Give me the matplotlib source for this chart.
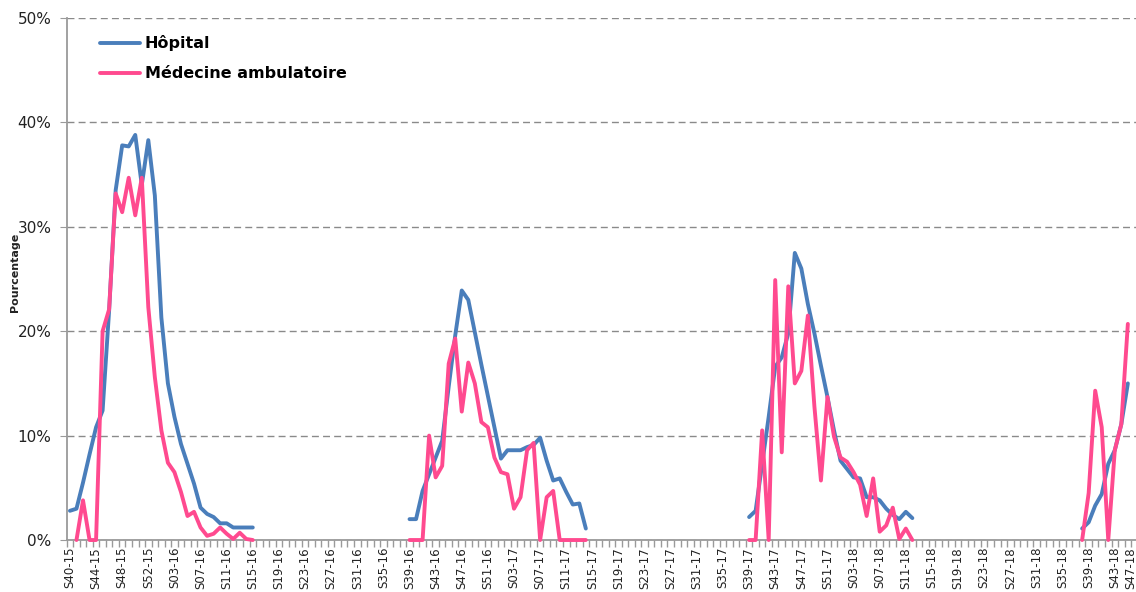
import numpy as np
import matplotlib
matplotlib.use("Agg")
import matplotlib.pyplot as plt
import matplotlib.ticker as ticker
import matplotlib.transforms as mtransforms

# week categories: (year, first week, last week)
YEAR_WEEKS = [(2015, 40, 53), (2016, 1, 52), (2017, 1, 52), (2018, 1, 47)]
WEEKS = [f"S{w:02d}-{y % 100:02d}" for y, a, b in YEAR_WEEKS for w in range(a, b + 1)]

# Hôpital, one list per season, starting at the given week (percent)
HOP_STARTS = ["S40-15", "S39-16", "S39-17", "S38-18"]
HOP_VALUES = [
    [2.8, 3.0, 5.5, 8.2, 10.8, 12.4, 22.0, 33.5, 37.8, 37.7, 38.8, 34.0, 38.3, 33.0, 21.3,
     15.0, 11.8, 9.2, 7.3, 5.4, 3.1, 2.5, 2.2, 1.6, 1.6, 1.2, 1.2, 1.2, 1.2],
    [2.0, 2.0, 4.7, 6.3, 7.9, 9.5, 14.7, 19.6, 23.9, 23.0, 19.9, 16.8, 13.8, 10.8, 7.8,
     8.6, 8.6, 8.6, 8.9, 9.1, 9.8, 7.6, 5.7, 5.9, 4.6, 3.4, 3.5, 1.1],
    [2.2, 2.8, 7.3, 11.8, 16.6, 17.5, 19.8, 27.5, 26.0, 22.6, 19.8, 16.7, 13.7, 10.5, 7.6,
     6.8, 6.0, 5.9, 4.1, 4.1, 3.8, 3.0, 2.4, 2.0, 2.7, 2.1],
    [1.1, 1.7, 3.3, 4.4, 7.3, 8.6, 11.1, 15.0],
]

# Médecine ambulatoire
AMB_STARTS = ["S41-15", "S39-16", "S39-17", "S38-18"]
AMB_VALUES = [
    [0.0, 3.8, 0.0, 0.0, 20.0, 22.1, 33.2, 31.4, 34.7, 31.1, 34.7, 22.3, 15.6, 10.5, 7.4,
     6.5, 4.6, 2.3, 2.7, 1.2, 0.4, 0.6, 1.2, 0.6, 0.1, 0.7, 0.1, 0.0],
    [0.0, 0.0, 0.0, 10.0, 6.0, 7.1, 16.9, 19.3, 12.3, 17.0, 15.0, 11.3, 10.8, 7.9, 6.5,
     6.3, 3.0, 4.1, 8.6, 9.3, 0.0, 4.1, 4.7, 0.0, 0.0, 0.0, 0.0, 0.0],
    [0.0, 0.0, 10.5, 0.0, 24.9, 8.4, 24.3, 15.0, 16.2, 21.5, 12.8, 5.7, 13.7, 9.9, 7.9,
     7.5, 6.5, 5.3, 2.3, 5.9, 0.8, 1.4, 3.1, 0.1, 1.1, 0.0],
    [0.0, 4.5, 14.3, 10.8, 0.0, 8.6, 11.1, 20.7],
]

BLUE = "#4A7EBB"
PINK = "#FF4A8F"
GREY = "#9a9a9a"


def build_series(starts, values):
    y = np.full(len(WEEKS), np.nan)
    for s, vals in zip(starts, values):
        i0 = WEEKS.index(s)
        y[i0:i0 + len(vals)] = vals
    return y


hop = build_series(HOP_STARTS, HOP_VALUES)
amb = build_series(AMB_STARTS, AMB_VALUES)
x = np.arange(len(WEEKS))

fig = plt.figure(figsize=(11.36, 5.92), dpi=100)
ax = fig.add_axes([0.0587, 0.0878, 0.9485, 0.8818])

ax.plot(x, hop, color=BLUE, linewidth=2.8, label="Hôpital", zorder=3, clip_on=False,
        solid_joinstyle="round", solid_capstyle="round")
ax.plot(x, amb, color=PINK, linewidth=2.8, label="Médecine ambulatoire", zorder=4, clip_on=False,
        solid_joinstyle="round", solid_capstyle="round")

ax.set_xlim(-0.5, len(WEEKS) - 0.5)
ax.set_ylim(0, 50)
ax.set_yticks(range(0, 51, 10))
ax.yaxis.set_major_formatter(ticker.FuncFormatter(lambda v, pos: f"{v:.0f}%"))
ax.yaxis.grid(True, linestyle=(0, (5, 3)), color="#8a8a8a", linewidth=1.0)
ax.set_axisbelow(True)

ax.set_xticks(x[::4])
ax.set_xticklabels(WEEKS[::4], rotation=90, fontsize=8.5, color="#222222")
ax.set_xticks(np.arange(-0.5, len(WEEKS), 1), minor=True)
ax.tick_params(axis="x", which="major", length=0, pad=5)
ax.tick_params(axis="x", which="minor", length=5, color=GREY, width=1)
ax.tick_params(axis="y", which="major", length=5, color=GREY, labelsize=11, labelcolor="#222222", pad=6)

# last label sits on the right edge of the picture: nudge it inside
last = ax.get_xticklabels()[-1]
last.set_transform(last.get_transform() + mtransforms.ScaledTranslation(-10 / 100, 0, fig.dpi_scale_trans))

for side in ["top", "right"]:
    ax.spines[side].set_visible(False)
for side in ["left", "bottom"]:
    ax.spines[side].set_color(GREY)
    ax.spines[side].set_linewidth(1.3)

fig.text(15 / 1136, 1 - 272 / 592, "Pourcentage", rotation=90, ha="center", va="center",
         fontsize=8, fontweight="bold", color="#222222")

ax.legend(loc="upper left", bbox_to_anchor=(0.031, 0.967), frameon=False, borderpad=0,
          borderaxespad=0, handlelength=2.5, handletextpad=0.3, labelspacing=0.95,
          prop={"size": 11.5, "weight": "bold"})

fig.savefig("out.png", dpi=100)
